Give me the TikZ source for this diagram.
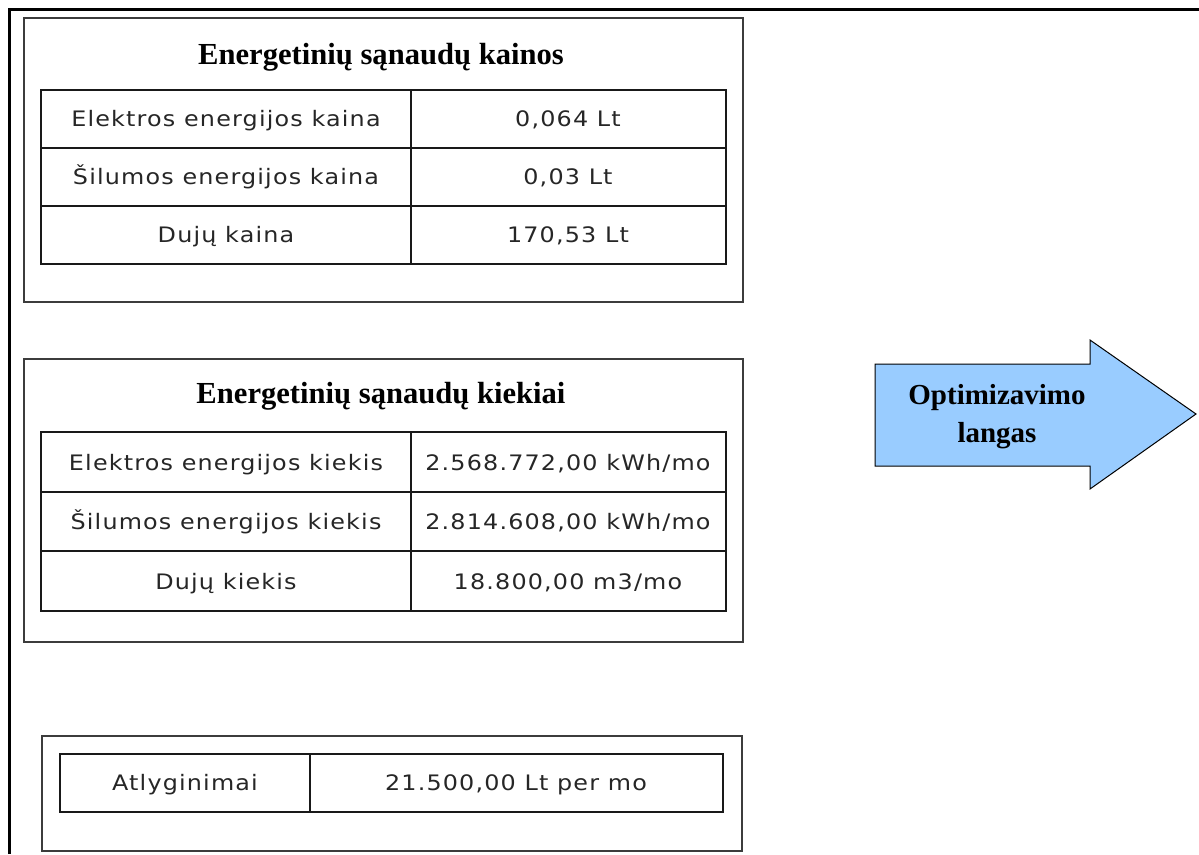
\documentclass[tikz,border=0pt]{standalone}
\usepackage{fontspec}
\setmainfont{Liberation Serif}
\newfontfamily\cellfont[FakeStretch=1.12,LetterSpace=5.5]{DejaVu Sans}
\definecolor{boxline}{HTML}{3C3C3C}
\definecolor{arrowfill}{HTML}{99CCFF}
\begin{document}
\begin{tikzpicture}[x=1pt,y=-1pt,
  panel/.style={draw=boxline,line width=2pt},
  grid/.style={draw=black!90,line width=1.6pt},
  heading/.style={inner sep=0pt,anchor=base,font=\bfseries\fontsize{30.6}{36}\selectfont},
  cell/.style={inner sep=0pt,anchor=base,text=black!85,font=\cellfont\fontsize{21.3}{25}\selectfont},
  arrowtext/.style={inner sep=0pt,align=center,font=\bfseries\fontsize{29}{38}\selectfont}]
\useasboundingbox (0,0) rectangle (1199,854);
% outer frame (left and top edges)
\draw[line width=3pt,black] (9.5,854) -- (9.5,9.5) -- (1199,9.5);

% --- prices panel ---
\draw[panel] (24,18) rectangle (743,302);
\node[heading] (t1) at (381,64) {Energetinių sąnaudų kainos};
\draw[grid] (41,90) rectangle (726,264);
\draw[grid] (41,148) -- (726,148) (41,206) -- (726,206) (411,90) -- (411,264);
\node[cell] (p1a) at (226,126.5) {Elektros energijos kaina};
\node[cell] (p1b) at (568,126.5) {0,064 Lt};
\node[cell] (p2a) at (226,184.5) {Šilumos energijos kaina};
\node[cell] (p2b) at (568,184.5) {0,03 Lt};
\node[cell] (p3a) at (226,242.5) {Dujų kaina};
\node[cell] (p3b) at (568,242.5) {170,53 Lt};

% --- quantities panel ---
\draw[panel] (24,359) rectangle (743,642);
\node[heading] (t2) at (381,403) {Energetinių sąnaudų kiekiai};
\draw[grid] (41,432) rectangle (726,611);
\draw[grid] (41,492) -- (726,492) (41,551) -- (726,551) (411,432) -- (411,611);
\node[cell] (q1a) at (226,470) {Elektros energijos kiekis};
\node[cell] (q1b) at (568,470) {2.568.772,00 kWh/mo};
\node[cell] (q2a) at (226,529) {Šilumos energijos kiekis};
\node[cell] (q2b) at (568,529) {2.814.608,00 kWh/mo};
\node[cell] (q3a) at (226,589) {Dujų kiekis};
\node[cell] (q3b) at (568,589) {18.800,00 m3/mo};

% --- wages panel ---
\draw[panel] (42,736) rectangle (742,851);
\draw[grid] (60,754) rectangle (723,812);
\draw[grid] (310,754) -- (310,812);
\node[cell] (w1) at (185,790.5) {Atlyginimai};
\node[cell] (w2) at (516,790.5) {21.500,00 Lt per mo};

% --- block arrow ---
\draw[black,line width=1pt,fill=arrowfill,line join=miter]
  (875,364) -- (1090,364) -- (1090,340) -- (1196,414) -- (1090,489) -- (1090,466) -- (875,466) -- cycle;
\node[arrowtext] (opt) at (997,417) {Optimizavimo\\langas};
\end{tikzpicture}
\end{document}
